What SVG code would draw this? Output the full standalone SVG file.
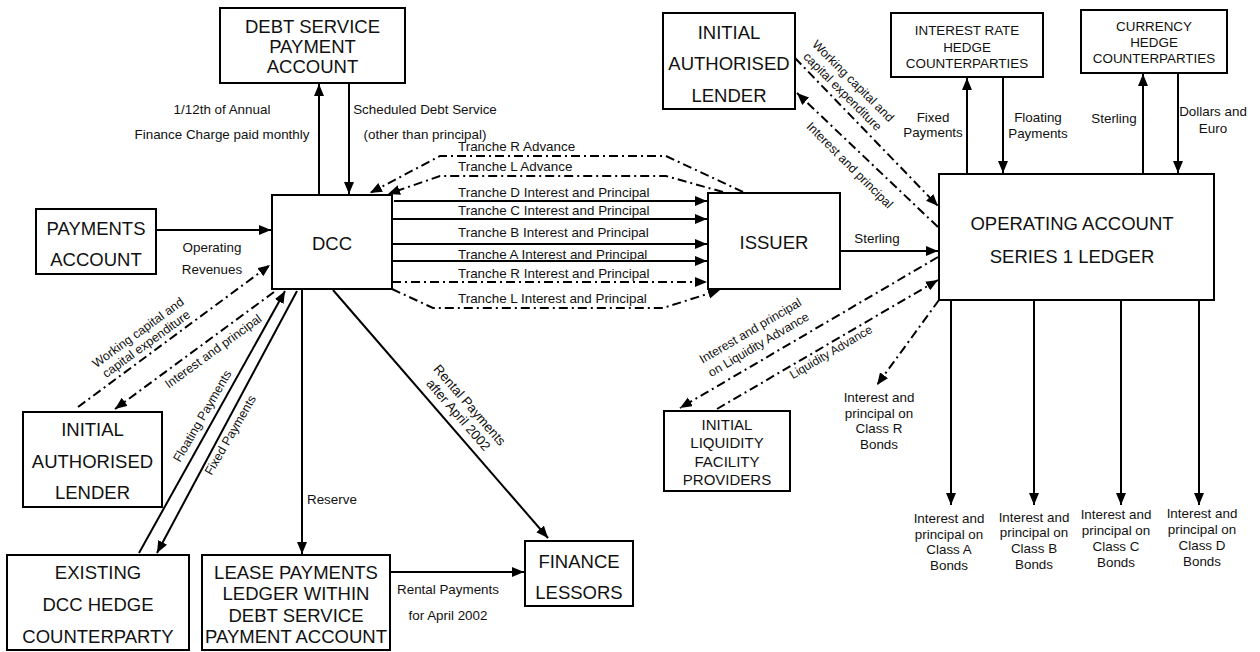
<svg xmlns="http://www.w3.org/2000/svg" width="1260" height="652" viewBox="0 0 1260 652">
<defs>
<marker id="ah" markerUnits="userSpaceOnUse" markerWidth="13" markerHeight="11" refX="12" refY="5" orient="auto"><path d="M0,0 L12,5 L0,10 z" fill="#000"/></marker>
<style>
.box{fill:#fff;stroke:#000;stroke-width:2}
.bt{font-family:"Liberation Sans",Arial,sans-serif;font-size:18.5px;fill:#111;text-anchor:middle}
.mt{font-family:"Liberation Sans",Arial,sans-serif;font-size:15px;fill:#111;text-anchor:middle}
.st{font-family:"Liberation Sans",Arial,sans-serif;font-size:13.4px;fill:#111;text-anchor:middle}
.lb{font-family:"Liberation Sans",Arial,sans-serif;font-size:13.4px;fill:#111;text-anchor:middle}
.ls{font-family:"Liberation Sans",Arial,sans-serif;font-size:13.4px;fill:#111;text-anchor:start}
.rl{font-family:"Liberation Sans",Arial,sans-serif;font-size:12.5px;fill:#111;text-anchor:middle}
.ln{fill:none;stroke:#000;stroke-width:2;marker-end:url(#ah)}
.dd{fill:none;stroke:#000;stroke-width:2;stroke-dasharray:9 4 2 4;marker-end:url(#ah)}
</style>
</defs>
<rect width="1260" height="652" fill="#fff"/>

<g id="connectors">
  <line class="ln" x1="319" y1="195" x2="319" y2="84"/>
  <line class="ln" x1="349" y1="84" x2="349" y2="194"/>
  <polyline class="dd" points="743,192 666,156 440,156 370,193"/>
  <polyline class="dd" points="723,192 666,176 440,176 388,194"/>
  <line class="ln" x1="394" y1="201" x2="707" y2="201"/>
  <line class="ln" x1="392" y1="219" x2="707" y2="219"/>
  <line class="ln" x1="392" y1="244" x2="707" y2="244"/>
  <line class="ln" x1="392" y1="261" x2="707" y2="261"/>
  <line class="dd" x1="392" y1="282" x2="707" y2="282"/>
  <polyline class="dd" points="392,289 433,308 663,308 720,290"/>
  <line class="ln" x1="840" y1="251" x2="938" y2="251"/>
  <line class="dd" x1="795" y1="58" x2="938" y2="206"/>
  <line class="dd" x1="938" y1="227" x2="797" y2="93"/>
  <line class="ln" x1="967" y1="174" x2="967" y2="78"/>
  <line class="ln" x1="1003" y1="78" x2="1003" y2="173"/>
  <line class="ln" x1="1143" y1="174" x2="1143" y2="74"/>
  <line class="ln" x1="1178" y1="74" x2="1178" y2="173"/>
  <line class="ln" x1="951" y1="300" x2="951" y2="505"/>
  <line class="ln" x1="1034" y1="300" x2="1034" y2="505"/>
  <line class="ln" x1="1121" y1="300" x2="1121" y2="505"/>
  <line class="ln" x1="1199" y1="300" x2="1199" y2="505"/>
  <line class="dd" x1="939" y1="300" x2="877" y2="385"/>
  <line class="dd" x1="938" y1="257" x2="680" y2="408"/>
  <line class="dd" x1="717" y1="409" x2="938" y2="280"/>
  <line class="ln" x1="156" y1="230" x2="271" y2="230"/>
  <line class="dd" x1="78" y1="407" x2="270" y2="265"/>
  <line class="dd" x1="274" y1="292" x2="115" y2="409"/>
  <line class="ln" x1="139" y1="553" x2="285" y2="291"/>
  <line class="ln" x1="297" y1="291" x2="157" y2="553"/>
  <line class="ln" x1="302" y1="289" x2="302" y2="554"/>
  <line class="ln" x1="333" y1="290" x2="548" y2="538"/>
  <line class="ln" x1="390" y1="572" x2="524" y2="572"/>

  <g id="connector-labels">
    <text class="lb" x="222" y="114">1/12th of Annual</text>
    <text class="lb" x="222" y="139">Finance Charge paid monthly</text>
    <text class="lb" x="425" y="114">Scheduled Debt Service</text>
    <text class="lb" x="425" y="139">(other than principal)</text>
    <text class="ls" x="458" y="151">Tranche R Advance</text>
    <text class="ls" x="458" y="171">Tranche L Advance</text>
    <text class="ls" x="458" y="197">Tranche D Interest and Principal</text>
    <text class="ls" x="458" y="215">Tranche C Interest and Principal</text>
    <text class="ls" x="458" y="237">Tranche B Interest and Principal</text>
    <text class="ls" x="458" y="259">Tranche A Interest and Principal</text>
    <text class="ls" x="458" y="278">Tranche R Interest and Principal</text>
    <text class="ls" x="458" y="303">Tranche L Interest and Principal</text>
    <text class="lb" x="877" y="243">Sterling</text>
    <g transform="translate(848,86) rotate(45)">
      <text class="rl" x="0" y="-3">Working capital and</text>
      <text class="rl" x="0" y="12">capital expenditure</text>
    </g>
    <text class="rl" transform="translate(850,165) rotate(45)" x="0" y="4.5">Interest and principal</text>
    <text class="lb" x="933" y="122">Fixed</text>
    <text class="lb" x="933" y="137">Payments</text>
    <text class="lb" x="1038" y="122">Floating</text>
    <text class="lb" x="1038" y="138">Payments</text>
    <text class="lb" x="1114" y="123">Sterling</text>
    <text class="lb" x="1213" y="116">Dollars and</text>
    <text class="lb" x="1213" y="133">Euro</text>
    <text class="lb" x="949" y="523">Interest and</text>
    <text class="lb" x="949" y="539">principal on</text>
    <text class="lb" x="949" y="554">Class A</text>
    <text class="lb" x="949" y="570">Bonds</text>
    <text class="lb" x="1034" y="522">Interest and</text>
    <text class="lb" x="1034" y="537">principal on</text>
    <text class="lb" x="1034" y="553">Class B</text>
    <text class="lb" x="1034" y="569">Bonds</text>
    <text class="lb" x="1116" y="519">Interest and</text>
    <text class="lb" x="1116" y="535">principal on</text>
    <text class="lb" x="1116" y="551">Class C</text>
    <text class="lb" x="1116" y="567">Bonds</text>
    <text class="lb" x="1202" y="518">Interest and</text>
    <text class="lb" x="1202" y="534">principal on</text>
    <text class="lb" x="1202" y="550">Class D</text>
    <text class="lb" x="1202" y="566">Bonds</text>
    <text class="lb" x="879" y="402">Interest and</text>
    <text class="lb" x="879" y="418">principal on</text>
    <text class="lb" x="879" y="433">Class R</text>
    <text class="lb" x="879" y="449">Bonds</text>
    <g transform="translate(754,337) rotate(-30.5)">
      <text class="rl" x="0" y="-3">Interest and principal</text>
      <text class="rl" x="0" y="13">on Liquidity Advance</text>
    </g>
    <text class="rl" style="font-size:12px" transform="translate(831,352) rotate(-30.5)" x="0" y="4">Liquidity Advance</text>
    <text class="lb" x="212" y="252">Operating</text>
    <text class="lb" x="212" y="274">Revenues</text>
    <g transform="translate(142,338) rotate(-36)">
      <text class="rl" x="0" y="-2.5">Working capital and</text>
      <text class="rl" x="0" y="11.5">capital expenditure</text>
    </g>
    <text class="rl" transform="translate(213,351) rotate(-36)" x="0" y="4.5">Interest and principal</text>
    <text class="rl" transform="translate(202,416) rotate(-60)" x="0" y="4.5">Floating Payments</text>
    <text class="rl" transform="translate(230,435) rotate(-60)" x="0" y="4.5">Fixed Payments</text>
    <text class="ls" x="307" y="504">Reserve</text>
    <g transform="translate(464,410) rotate(49)">
      <text class="lb" x="0" y="-3">Rental Payments</text>
      <text class="lb" x="0" y="12">after April 2002</text>
    </g>
    <text class="lb" x="448" y="594">Rental Payments</text>
    <text class="lb" x="448" y="620">for April 2002</text>
  </g>
</g>

<g id="debt-service-payment-account">
  <rect class="box" x="220" y="8" width="185" height="75"/>
  <text class="bt" x="312.5" y="33">DEBT SERVICE</text>
  <text class="bt" x="312.5" y="53">PAYMENT</text>
  <text class="bt" x="312.5" y="73">ACCOUNT</text>
</g>
<g id="dcc">
  <rect class="box" x="272" y="195" width="120" height="94"/>
  <text class="bt" x="332" y="250">DCC</text>
</g>
<g id="payments-account">
  <rect class="box" x="36" y="209" width="120" height="65"/>
  <text class="bt" x="96" y="235">PAYMENTS</text>
  <text class="bt" x="96" y="266">ACCOUNT</text>
</g>
<g id="initial-authorised-lender-top">
  <rect class="box" x="663" y="13" width="132" height="96"/>
  <text class="bt" x="729" y="39">INITIAL</text>
  <text class="bt" x="729" y="70">AUTHORISED</text>
  <text class="bt" x="729" y="102">LENDER</text>
</g>
<g id="issuer">
  <rect class="box" x="708" y="193" width="132" height="96"/>
  <text class="bt" x="774" y="249">ISSUER</text>
</g>
<g id="interest-rate-hedge">
  <rect class="box" x="891" y="13" width="152" height="64"/>
  <text class="st" x="967" y="35">INTEREST RATE</text>
  <text class="st" x="967" y="52">HEDGE</text>
  <text class="st" x="967" y="68">COUNTERPARTIES</text>
</g>
<g id="currency-hedge">
  <rect class="box" x="1081" y="10" width="146" height="63"/>
  <text class="st" x="1154" y="31">CURRENCY</text>
  <text class="st" x="1154" y="47">HEDGE</text>
  <text class="st" x="1154" y="63">COUNTERPARTIES</text>
</g>
<g id="operating-account">
  <rect class="box" x="939" y="174" width="275" height="126"/>
  <text class="bt" x="1072" y="230">OPERATING ACCOUNT</text>
  <text class="bt" x="1072" y="263">SERIES 1 LEDGER</text>
</g>
<g id="initial-liquidity-facility-providers">
  <rect class="box" x="664" y="411" width="126" height="80"/>
  <text class="mt" x="727" y="429.5">INITIAL</text>
  <text class="mt" x="727" y="448">LIQUIDITY</text>
  <text class="mt" x="727" y="466.5">FACILITY</text>
  <text class="mt" x="727" y="485">PROVIDERS</text>
</g>
<g id="initial-authorised-lender-left">
  <rect class="box" x="23" y="412" width="139" height="95"/>
  <text class="bt" x="92.5" y="436">INITIAL</text>
  <text class="bt" x="92.5" y="468">AUTHORISED</text>
  <text class="bt" x="92.5" y="499">LENDER</text>
</g>
<g id="existing-dcc-hedge-counterparty">
  <rect class="box" x="7" y="555" width="182" height="95"/>
  <text class="bt" x="98" y="579">EXISTING</text>
  <text class="bt" x="98" y="611">DCC HEDGE</text>
  <text class="bt" x="98" y="643">COUNTERPARTY</text>
</g>
<g id="lease-payments-ledger">
  <rect class="box" x="202" y="555" width="188" height="95"/>
  <text class="bt" x="296" y="578.6">LEASE PAYMENTS</text>
  <text class="bt" x="296" y="600.1">LEDGER WITHIN</text>
  <text class="bt" x="296" y="621.6">DEBT SERVICE</text>
  <text class="bt" x="296" y="643.1">PAYMENT ACCOUNT</text>
</g>
<g id="finance-lessors">
  <rect class="box" x="525" y="541" width="108" height="65"/>
  <text class="bt" x="579" y="567.6">FINANCE</text>
  <text class="bt" x="579" y="598.6">LESSORS</text>
</g>
</svg>
